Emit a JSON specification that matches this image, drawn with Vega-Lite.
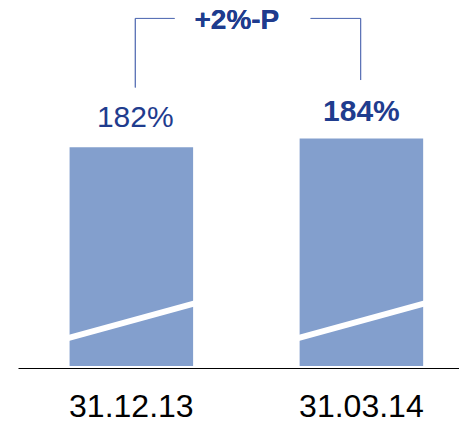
{
  "$schema": "https://vega.github.io/schema/vega-lite/v6.json",
  "width": 441,
  "height": 366,
  "autosize": "none",
  "padding": {"left": 18, "right": 0, "top": 0, "bottom": 55},
  "background": "white",
  "config": {"view": {"stroke": null}, "font": "Liberation Sans"},
  "data": {"values": [
    {"date": "31.12.13", "value": 182, "label": "182%"},
    {"date": "31.03.14", "value": 184, "label": "184%"}
  ]},
  "encoding": {
    "x": {
      "field": "date", "type": "nominal", "sort": null,
      "scale": {"paddingInner": 0.463, "paddingOuter": 0.19, "align": 0.59},
      "axis": {"title": null, "ticks": false, "tickSize": 0, "domainColor": "#000000", "domainWidth": 1.2, "offset": 2,
               "labelAngle": 0, "labelFontSize": 32, "labelColor": "#000000", "labelFont": "Liberation Sans",
               "labelBaseline": "alphabetic", "labelPadding": 48.5}
    }
  },
  "layer": [
    {
      "mark": {"type": "bar", "color": "#839fcd"},
      "encoding": {
        "y": {"field": "value", "type": "quantitative", "scale": {"domain": [131, 216.3], "zero": false, "nice": false}, "axis": null},
        "y2": {"datum": 131}
      }
    },
    {
      "mark": {"type": "rule", "color": "white", "strokeWidth": 6, "strokeCap": "butt"},
      "encoding": {
        "x": {"field": "date", "type": "nominal", "sort": null, "bandPosition": -0.05},
        "x2": {"field": "date", "bandPosition": 1.05},
        "y": {"datum": 137.2, "type": "quantitative"},
        "y2": {"datum": 145.9}
      }
    },
    {
      "transform": [{"filter": "datum.date === '31.12.13'"}],
      "mark": {"type": "text", "fontSize": 30, "color": "#1f3c8e", "baseline": "alphabetic", "dy": -20},
      "encoding": {
        "x": {"field": "date", "type": "nominal", "sort": null, "bandPosition": 0.532},
        "y": {"field": "value", "type": "quantitative"},
        "text": {"field": "label"}
      }
    },
    {
      "transform": [{"filter": "datum.date === '31.03.14'"}],
      "mark": {"type": "text", "fontSize": 30, "fontWeight": "bold", "color": "#1f3c8e", "baseline": "alphabetic", "dy": -18},
      "encoding": {
        "x": {"field": "date", "type": "nominal", "sort": null, "bandPosition": 0.5},
        "y": {"field": "value", "type": "quantitative"},
        "text": {"field": "label"}
      }
    },
    {
      "mark": {"type": "rule", "color": "#5a72b6", "strokeWidth": 1},
      "encoding": {
        "x": {"datum": "31.12.13", "bandPosition": 0.532},
        "y": {"datum": 212, "type": "quantitative"},
        "y2": {"datum": 195.9}
      }
    },
    {
      "mark": {"type": "rule", "color": "#5a72b6", "strokeWidth": 1},
      "encoding": {
        "x": {"datum": "31.12.13", "bandPosition": 0.532},
        "x2": {"datum": "31.12.13", "bandPosition": 0.85},
        "y": {"datum": 212, "type": "quantitative"}
      }
    },
    {
      "mark": {"type": "rule", "color": "#5a72b6", "strokeWidth": 1},
      "encoding": {
        "x": {"datum": "31.03.14", "bandPosition": 0.494},
        "y": {"datum": 212, "type": "quantitative"},
        "y2": {"datum": 197.65}
      }
    },
    {
      "mark": {"type": "rule", "color": "#5a72b6", "strokeWidth": 1},
      "encoding": {
        "x": {"datum": "31.03.14", "bandPosition": 0.089},
        "x2": {"datum": "31.03.14", "bandPosition": 0.494},
        "y": {"datum": 212, "type": "quantitative"}
      }
    },
    {
      "mark": {"type": "text", "fontSize": 28, "fontWeight": "bold", "color": "#1f3c8e", "baseline": "alphabetic", "align": "center"},
      "encoding": {
        "x": {"datum": "31.03.14", "bandPosition": -0.508},
        "y": {"datum": 209.5, "type": "quantitative"},
        "text": {"value": "+2%-P"}
      }
    }
  ]
}
